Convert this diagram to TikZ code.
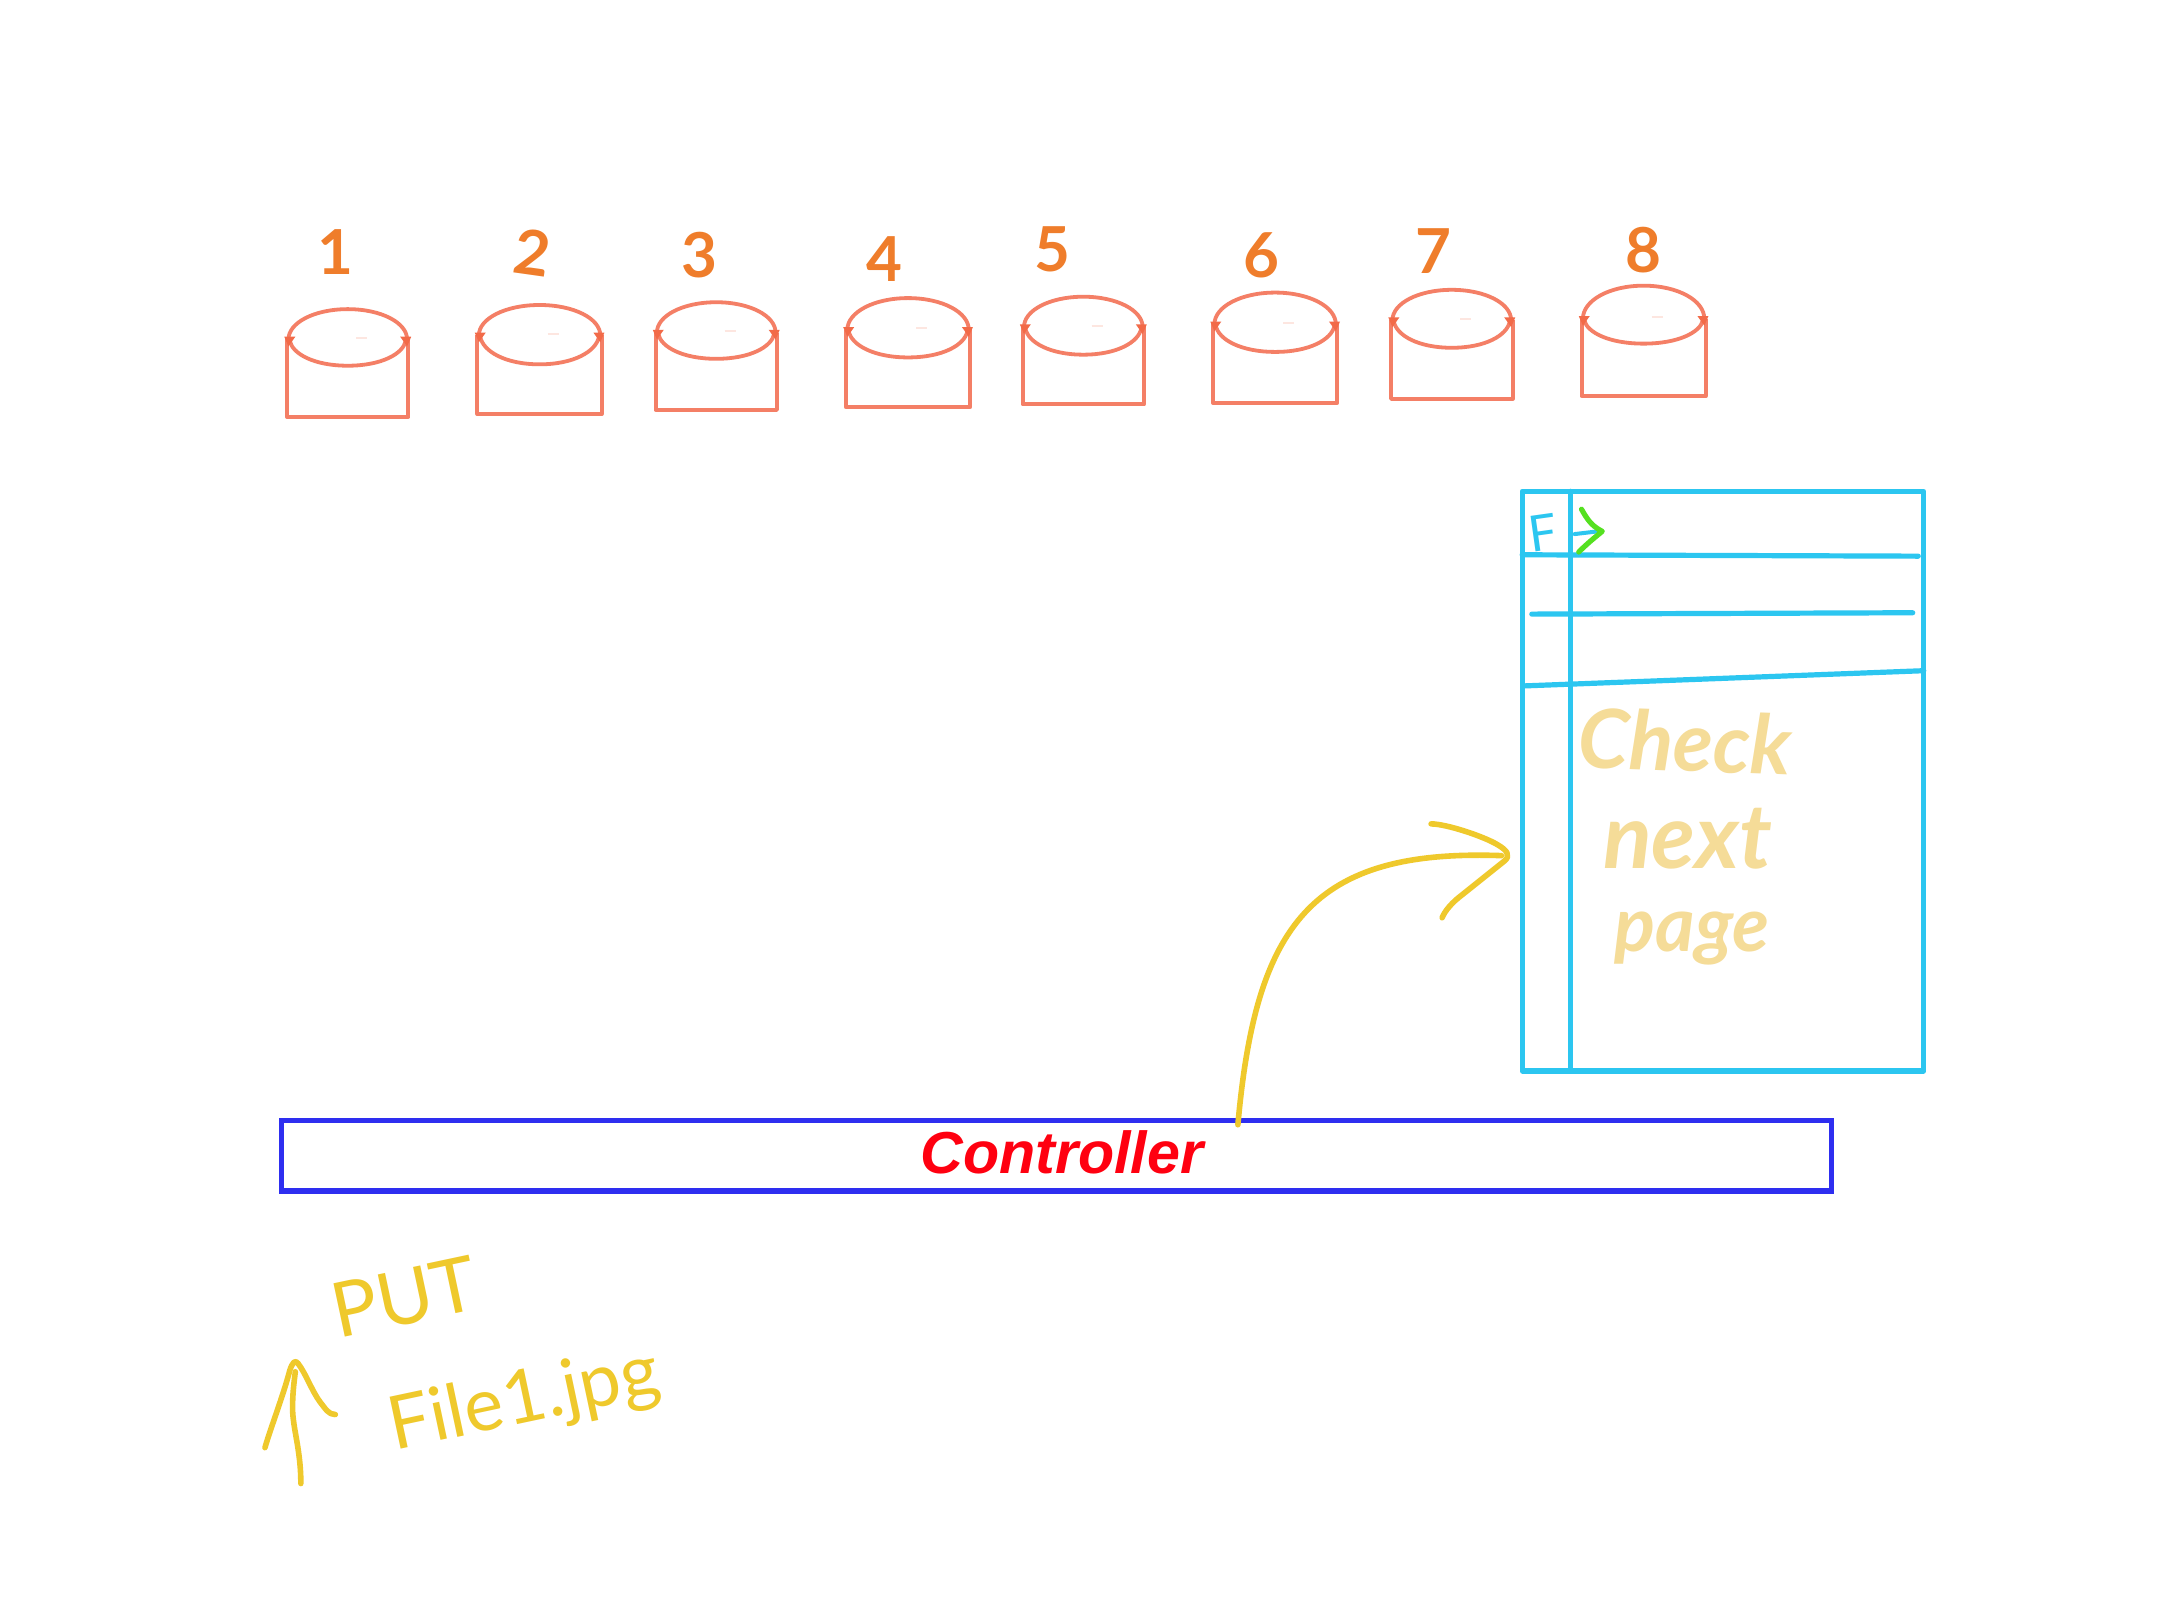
\documentclass[tikz,border=0pt]{standalone}
\usepackage{fontspec}
\setmainfont{Lato}
\newfontfamily\ctrlfont{Liberation Sans}
\definecolor{cylcol}{HTML}{F47F66}
\definecolor{cylmark}{HTML}{F26A48}
\definecolor{faintcol}{HTML}{FDE6E0}
\definecolor{numcol}{HTML}{EF7D2B}
\definecolor{tablecol}{HTML}{2CC6F0}
\definecolor{ctrlcol}{HTML}{2E2EF0}
\definecolor{inkcol}{HTML}{EFC92C}
\definecolor{palecol}{HTML}{F5DC98}
\definecolor{arrowgreen}{HTML}{55E020}
\definecolor{ctrlred}{HTML}{FF0010}
\tikzset{
  cylline/.style={draw=cylcol,line width=2pt,line join=round},
  numlabel/.style={text=numcol,font=\fontsize{31}{33}\selectfont\bfseries,inner sep=0pt},
  cyanline/.style={draw=tablecol,line width=2.6pt,line cap=round,line join=round},
  inkline/.style={draw=inkcol,line width=2.8pt,line cap=round,line join=round},
  inktext/.style={text=inkcol,inner sep=0pt},
  paletext/.style={text=palecol,inner sep=0pt,font=\itshape\bfseries},
}
% #1 left #2 right #3 top #4 rim #5 ellipse bottom #6 base
\newcommand{\mycyl}[6]{%
  \pgfmathsetmacro{\cxx}{(#1+#2)/2}%
  \pgfmathsetmacro{\ka}{0.5523*(#2-#1)/2}%
  \pgfmathsetmacro{\kt}{0.5523*(#4-#3)}%
  \pgfmathsetmacro{\kb}{0.5523*(#5-#4)}%
  \draw[cylline] (#1,#4) -- (#1,#6) -- (#2,#6) -- (#2,#4);
  \draw[cylline,line width=1.9pt] (#1+1,#4) .. controls (#1+1,#4-\kt) and (\cxx-\ka,#3) .. (\cxx,#3)
     .. controls (\cxx+\ka,#3) and (#2-1,#4-\kt) .. (#2-1,#4);
  \draw[cylline,line width=1.9pt] (#1+2,#4+1) .. controls (#1+4,#4+\kb) and (\cxx-\ka,#5) .. (\cxx,#5)
     .. controls (\cxx+\ka,#5) and (#2-4,#4+\kb) .. (#2-2,#4+1);
  \fill[cylmark] (#1-2,#4-2) -- (#1+6,#4-2) -- (#1+1,#4+5) -- cycle;
  \fill[cylmark] (#2+2,#4-2) -- (#2-6,#4-2) -- (#2-1,#4+5) -- cycle;
  \draw[faintcol,line width=1pt] (\cxx+6,#4-1) -- (\cxx+14,#4-1);
}
\begin{document}
\begin{tikzpicture}[x=0.69pt,y=-0.69pt]
\useasboundingbox[fill=white] (0,0) rectangle (1565.2,1174);

% cylinders
\mycyl{208}{296}{224}{246}{265}{302}
\mycyl{346}{436}{221}{243}{264}{300}
\mycyl{475}{563}{219}{241}{260}{297}
\mycyl{613}{703}{216}{239}{259}{295}
\mycyl{741}{829}{215}{237}{257}{293}
\mycyl{879}{969}{212}{235}{255}{292}
\mycyl{1008}{1096}{210}{232}{252}{289}
\mycyl{1146}{1236}{207}{231}{249}{287}

% numbers
\node[numlabel] (n1) at (243,183) {1};
\node[numlabel,rotate=-8] (n2) at (386,183) {2};
\node[numlabel] (n3) at (507,185) {3};
\node[numlabel] (n4) at (641,188) {4};
\node[numlabel] (n5) at (763,181) {5};
\node[numlabel] (n6) at (914,185) {6};
\node[numlabel] (n7) at (1039,182) {7};
\node[numlabel] (n8) at (1191,181) {8};

% table
\draw[cyanline] (1103,356) rectangle (1394,776);
\draw[cyanline] (1138,356) -- (1138,776);
\draw[cyanline] (1103,402) -- (1390,403);
\draw[cyanline] (1110,445) -- (1386,444);
\draw[cyanline] (1105,497) -- (1394,486);
\node[text=tablecol,inner sep=0pt,rotate=8,font=\fontsize{25}{27}\selectfont] (fcell) at (1118,386) {F};
\draw[cyanline,line width=2pt] (1141,387) -- (1158,385);
\draw[draw=arrowgreen,line width=2.6pt,line cap=round,line join=round]
  (1146,369) .. controls (1150,376) and (1153,381) .. (1161,385) .. controls (1155,390) and (1150,394) .. (1144,400);

\node[paletext,rotate=-2,font=\fontsize{41}{43}\selectfont\itshape\bfseries] (check) at (1221,537) {Check};
\node[paletext,font=\fontsize{45}{47}\selectfont\itshape\bfseries] (nextw) at (1223,608) {next};
\node[paletext,font=\fontsize{38}{40}\selectfont\itshape\bfseries] (pagew) at (1226,680) {page};

% controller
\node[draw=ctrlcol,line width=2.6pt,minimum width=774.9pt,minimum height=35.2pt,inner sep=0pt,
      text=ctrlred,font=\ctrlfont\fontsize{29.6}{31}\selectfont\bfseries\itshape] (controller) at (765.5,837.5) {};
\node[text=ctrlred,inner sep=0pt,font=\ctrlfont\fontsize{29.6}{31}\selectfont\bfseries\itshape] (ctrllabel) at (769.5,835) {Controller};

% connector controller -> table
\coordinate (ctrlout) at (897,815);
\coordinate (tablein) at (1088,620);
\draw[inkline] (ctrlout) .. controls (910,670) and (950,615) .. (tablein);
\draw[inkline] (1037,597) .. controls (1048,597) and (1075,606) .. (1085,612)
   .. controls (1092,616) and (1095,620) .. (1090,624) -- (1060,648) .. controls (1052,654) and (1047,660) .. (1045,665);

% labels bottom-left
\node[inktext,rotate=12,font=\fontsize{38}{40}\selectfont] (putw) at (293,940) {PUT};
\node[inktext,rotate=12,font=\fontsize{37}{39}\selectfont] (filew) at (380,1016) {File1.jpg};

% up arrow
\coordinate (uptail) at (218,1075);
\coordinate (uptip) at (214,994);
\draw[inkline] (uptail) .. controls (218,1050) and (212,1035) .. (212,1020) .. controls (212,1010) and (213,1002) .. (uptip);
\draw[inkline] (192,1049) .. controls (196,1035) and (205,1012) .. (210,993) .. controls (212,987) and (214,985) .. (216,988)
   .. controls (222,996) and (226,1008) .. (232,1016) .. controls (236,1021) and (238,1025) .. (243,1025);
\end{tikzpicture}
\end{document}
